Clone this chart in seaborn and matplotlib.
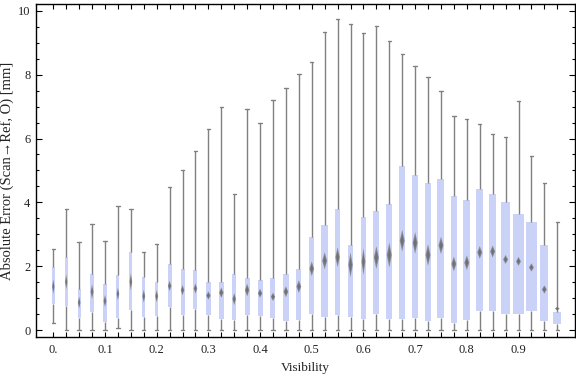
import matplotlib
matplotlib.use("Agg")
import matplotlib.pyplot as plt
import seaborn as sns
import pandas as pd
import numpy as np

# visibility bins of 0.025, box-whisker summaries of absolute error [mm]
whisk_lo = [0.21, 0, 0, 0, 0, 0.05, 0, 0, 0, 0,
            0, 0, 0, 0, 0, 0, 0, 0, 0, 0,
            0, 0, 0, 0, 0, 0, 0, 0, 0, 0,
            0, 0, 0, 0, 0, 0, 0, 0, 0, 0]
q1 = [0.81, 0.74, 0.39, 0.56, 0.26, 0.39, 0.63, 0.41, 0.45, 0.73,
      0.48, 0.67, 0.48, 0.35, 0.31, 0.48, 0.44, 0.38, 0.28, 0.32,
      0.50, 0.42, 0.48, 0.42, 0.34, 0.51, 0.34, 0.34, 0.38, 0.28,
      0.38, 0.22, 0.31, 0.59, 0.59, 0.50, 0.50, 0.59, 0.28, 0.19]
medians = [1.36, 1.51, 0.86, 1.20, 0.91, 1.13, 1.51, 1.06, 1.06, 1.38,
           1.25, 1.30, 1.08, 1.17, 0.97, 1.25, 1.15, 1.04, 1.20, 1.36,
           1.92, 2.17, 2.28, 2.04, 2.14, 2.27, 2.35, 2.80, 2.73, 2.35,
           2.65, 2.07, 2.11, 2.43, 2.46, 2.21, 2.15, 1.96, 1.27, 0.67]
q3 = [1.98, 2.29, 1.28, 1.75, 1.43, 1.72, 2.43, 1.66, 1.50, 2.06,
      1.91, 1.88, 1.50, 1.50, 1.75, 1.63, 1.57, 1.63, 1.75, 1.91,
      2.90, 3.29, 3.79, 2.65, 3.54, 3.73, 3.95, 5.14, 4.85, 4.60,
      4.73, 4.20, 4.07, 4.42, 4.26, 4.01, 3.63, 3.38, 2.66, 0.56]
whisk_hi = [2.54, 3.78, 2.75, 3.31, 2.78, 3.87, 3.80, 2.46, 2.71, 4.47,
            5.00, 5.60, 6.29, 7.00, 4.25, 6.94, 6.49, 7.22, 7.57, 8.01,
            8.41, 9.35, 9.73, 9.60, 9.32, 9.52, 9.04, 8.66, 8.26, 7.94,
            7.48, 6.69, 6.60, 6.47, 6.13, 6.06, 7.17, 5.45, 4.60, 3.37]
# half height of the median diamond [mm]
median_ci = [0.23, 0.23, 0.19, 0.23, 0.19, 0.20, 0.27, 0.20, 0.19, 0.16,
             0.16, 0.16, 0.13, 0.16, 0.19, 0.20, 0.14, 0.13, 0.17, 0.20,
             0.23, 0.27, 0.31, 0.39, 0.42, 0.36, 0.39, 0.34, 0.34, 0.34,
             0.27, 0.23, 0.23, 0.20, 0.19, 0.14, 0.14, 0.13, 0.13, 0.06]
tick_labels = ["0.", "0.1", "0.2", "0.3", "0.4", "0.5", "0.6", "0.7", "0.8", "0.9"]

# box widths (pixels), drawing only
box_px = [2.7, 2.7, 3, 3.3, 3.3, 3, 3, 3.3, 3.3, 4,
          4, 4, 5, 5, 4, 5, 5, 5, 5.3, 5.3,
          5.3, 7, 5, 5, 4.2, 6, 6, 6, 6, 6,
          7, 6, 7.3, 7.3, 7, 9, 11, 11, 8, 8.3]
px_per_bin = 12.95

n = len(q1)
rows = []
for i in range(n):
    mid = min(max(medians[i], q1[i]), q3[i])
    for v in (whisk_lo[i], q1[i], mid, q3[i], whisk_hi[i]):
        rows.append({"bin": i, "err": v})
df = pd.DataFrame(rows)

sns.set_style("ticks")
plt.rcParams["font.family"] = ["Liberation Serif", "DejaVu Serif"]

fig, ax = plt.subplots(figsize=(5.76, 3.77), dpi=100)
fig.subplots_adjust(left=0.0625, right=0.998, bottom=0.106, top=0.989)

box_color = "#cbd2f7"
for i in range(n):
    w = box_px[i] / px_per_bin
    sns.boxplot(data=df[df["bin"] == i], x="bin", y="err", orient="x",
                native_scale=True, width=w, whis=np.inf, color=box_color,
                saturation=1, linecolor="#808080", linewidth=1.0,
                boxprops={"edgecolor": "none", "linewidth": 0},
                medianprops={"visible": False},
                capwidths=0.26, ax=ax)

# median diamonds
for i in range(n):
    hw = min(0.45 * box_px[i], 2.5) / px_per_bin
    m, h = medians[i], median_ci[i]
    ax.fill([i - hw, i, i + hw, i], [m, m + h, m, m - h],
            color="#7a7a7a", alpha=0.8, lw=0, zorder=5)
    ax.fill([i - hw * 0.6, i, i + hw * 0.6, i], [m, m + h * 0.6, m, m - h * 0.6],
            color="#5e5e5e", alpha=0.6, lw=0, zorder=6)

ax.set_xlim(-1.34, 40.36)
ax.set_ylim(-0.22, 10.21)
ax.set_xticks(range(n))
ax.set_xticklabels([tick_labels[i // 4] if i % 4 == 0 else "" for i in range(n)])
ax.set_yticks([0, 2, 4, 6, 8, 10])
ax.set_yticks(np.arange(0, 10.01, 0.5), minor=True)
ax.tick_params(axis="both", which="both", direction="in", top=True, right=True,
               colors="black", labelcolor="#222222", labelsize=9, width=0.8)
ax.tick_params(axis="x", which="major", length=3.5, pad=5)
ax.tick_params(axis="y", which="major", length=4.5, pad=4)
ax.tick_params(axis="y", which="minor", length=2.5)
for s in ax.spines.values():
    s.set_visible(True)
    s.set_linewidth(1.0)
    s.set_color("black")

ax.set_xlabel("Visibility", fontsize=9.5, color="#222222", labelpad=4)
ax.set_ylabel("Absolute Error (Scan\u2192Ref, O) [mm]", fontsize=10.5,
              color="#222222")
ax.yaxis.set_label_coords(-0.041, 0.5)

fig.savefig("out.png", dpi=100)
